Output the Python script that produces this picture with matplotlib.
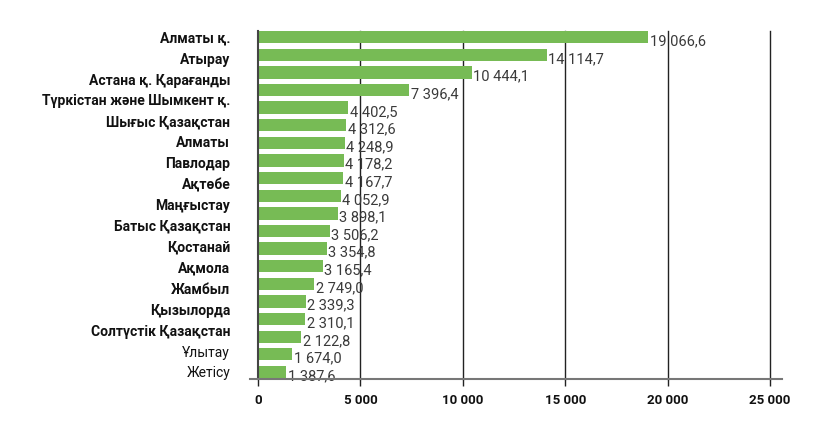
import matplotlib
matplotlib.use('Agg')
import matplotlib.pyplot as plt
import numpy as np

plt.rcParams['font.family'] = ['Roboto', 'DejaVu Sans']

# values per bar, top to bottom
values = [19066.6, 14114.7, 10444.1, 7396.4, 4402.5, 4312.6, 4248.9, 4178.2,
          4167.7, 4052.9, 3898.1, 3506.2, 3354.8, 3165.4, 2749.0, 2339.3,
          2310.1, 2122.8, 1674.0, 1387.6]

# category labels as they appear on the axis (fewer labels than bars)
labels = ['Алматы қ.', 'Атырау', 'Астана қ. Қарағанды', 'Түркістан және Шымкент қ.',
          'Шығыс Қазақстан', 'Алматы', 'Павлодар', 'Ақтөбе', 'Маңғыстау',
          'Батыс Қазақстан', 'Қостанай', 'Ақмола', 'Жамбыл', 'Қызылорда',
          'Солтүстік Қазақстан', 'Ұлытау', 'Жетісу']
bold_labels = [True] * 15 + [False, False]

x_ticks = [0, 5000, 10000, 15000, 20000, 25000]
x_tick_labels = ['0', '5 000', '10 000', '15 000', '20 000', '25 000']

bar_color = '#77bb55'


def fmt(v):
    return '{:,.1f}'.format(v).replace(',', ' ').replace('.', ',')


fig = plt.figure(figsize=(8.18, 4.46), dpi=100, facecolor='w')
ax = fig.add_axes([258 / 818, 67 / 446, 512 / 818, 348 / 446])

pos = np.arange(len(values))
ax.barh(pos, values, height=0.7, color=bar_color, zorder=2)

# grid lines
for t in x_ticks[1:]:
    ax.axvline(t, color='#222222', linewidth=1.0, zorder=1, clip_on=False)

# value labels
for p, v in zip(pos, values):
    ax.annotate(fmt(v), xy=(v, p), xytext=(1, -3), textcoords='offset points',
                ha='left', va='center', fontsize=10.5, color='#3a3a3a',
                zorder=3)

ax.set_xlim(0, 25000)
ax.set_ylim(19.4, -0.35)

ax.set_xticks(x_ticks)
ax.set_xticklabels(x_tick_labels, fontsize=9.5, fontweight='bold', color='#111111')
ax.tick_params(axis='x', length=5, width=1, color='#222222', pad=6)

label_pos = np.linspace(0, len(values) - 1, len(labels))
ax.set_yticks(label_pos)
ax.set_yticklabels(labels, fontsize=10, color='#111111')
for tl, b in zip(ax.get_yticklabels(), bold_labels):
    tl.set_fontweight('bold' if b else 'normal')
ax.tick_params(axis='y', length=0, pad=20)

for s in ['top', 'right', 'bottom']:
    ax.spines[s].set_visible(False)
ax.spines['left'].set_color('#444444')
ax.spines['left'].set_linewidth(1.5)

# horizontal axis line that runs a little past both ends
ax.axhline(19.4, xmin=-0.016, xmax=1.023, color='#777777', linewidth=1.5,
           clip_on=False, zorder=3)

plt.savefig('out.png', dpi=100)
plt.close()
